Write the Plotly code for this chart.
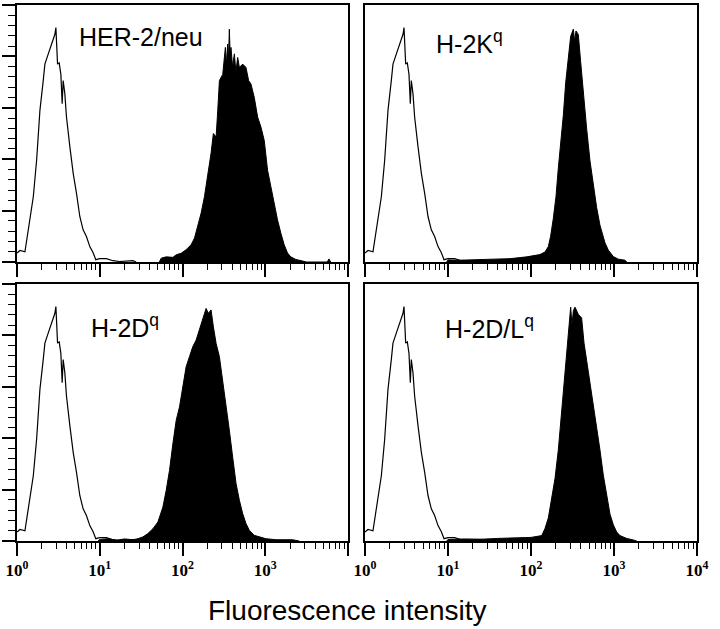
"""Histogrammes de cytométrie : HER-2/neu et molécules H-2 (q)"""

import plotly.graph_objects as go

# positions en décades (log10 de l'intensité) et hauteurs (% du cadre)
control_log = [0.0, 0.036, 0.096, 0.116, 0.157, 0.197, 0.237, 0.277, 0.317, 0.337,
               0.378, 0.418, 0.458, 0.47, 0.49, 0.51, 0.53, 0.546, 0.558, 0.578,
               0.598, 0.639, 0.679, 0.719, 0.759, 0.799, 0.839, 0.88, 0.92, 0.952,
               1.0, 1.08, 1.16, 1.24, 1.40, 1.44]
control_cnt = [3.5, 4.5, 4.0, 8.6, 16.4, 25.4, 39.6, 59, 70.6, 77,
               81, 84.8, 88.6, 91.2, 77, 77.5, 73, 61.6, 70.6, 65.5,
               56.4, 44.8, 34.5, 26.7, 17.7, 12.5, 9.9, 6, 3.6, 0.9,
               1.3, 1.3, 0.5, 0.2, 0.5, 0]

her2_log = [1.72, 1.743, 1.803, 1.884, 1.924, 1.984, 2.044, 2.104, 2.145, 2.185,
            2.225, 2.265, 2.305, 2.345, 2.373, 2.406, 2.426, 2.446, 2.486, 2.518,
            2.53, 2.546, 2.556, 2.566, 2.576, 2.586, 2.605, 2.627, 2.645, 2.667,
            2.687, 2.727, 2.767, 2.799, 2.827, 2.867, 2.908, 2.948, 2.988, 3.028,
            3.068, 3.108, 3.148, 3.189, 3.229, 3.269, 3.309, 3.369, 3.45, 3.5,
            3.75, 3.77, 3.79]
her2_cnt = [0, 1.5, 2.0, 1.8, 2.8, 3.4, 4.8, 6.7, 9.3, 13.8,
            19, 25.4, 33.1, 42.3, 50, 48.6, 59, 70.6, 73, 83.5,
            77, 84.8, 79, 90.6, 81, 83.5, 76, 81, 74, 79.6,
            75.7, 77, 75.7, 70.6, 69.3, 64.1, 56.4, 52.5, 47.3, 35.7,
            29.3, 22.8, 16.4, 11.2, 6.7, 3.5, 2, 1, 0.3, 0,
            0, 1.2, 0]

h2kq_log = [0.984, 1.0, 1.145, 1.345, 1.546, 1.747, 1.948, 2.108, 2.169, 2.209,
            2.237, 2.269, 2.301, 2.329, 2.36, 2.39, 2.418, 2.45, 2.478, 2.51,
            2.526, 2.542, 2.57, 2.598, 2.631, 2.671, 2.711, 2.751, 2.791, 2.831,
            2.892, 2.932, 2.992, 3.052, 3.133, 3.153]
h2kq_cnt = [0, 0.8, 0.7, 1.0, 1.1, 1.3, 2.0, 2.9, 3.9, 6,
            10.1, 17, 25.4, 36.5, 46.2, 57.3, 69.8, 79.5, 87.8, 90.6,
            86, 89.9, 88.5, 78, 65.6, 51.7, 39.3, 29.5, 21.2, 14.3,
            7.4, 4.6, 2.1, 1.1, 0.7, 0]

h2dq_log = [0.98, 1.0, 1.1, 1.2, 1.3, 1.4, 1.462, 1.522, 1.582, 1.643,
            1.703, 1.763, 1.803, 1.843, 1.884, 1.924, 1.964, 2.004, 2.044, 2.084,
            2.124, 2.165, 2.205, 2.245, 2.285, 2.313, 2.345, 2.373, 2.406, 2.446,
            2.486, 2.526, 2.566, 2.606, 2.647, 2.687, 2.727, 2.767, 2.807, 2.867,
            2.928, 3.008, 3.129, 3.329, 3.41]
h2dq_cnt = [0, 0.6, 0.9, 0.3, 0.8, 0.5, 0.9, 1.6, 2.9, 4.8,
            7.4, 13.2, 19.7, 27.5, 37.9, 47, 52.2, 60, 67.8, 71.7,
            75.6, 78.2, 82, 86, 90.5, 88.6, 89.9, 83.4, 76.9, 71.7,
            62.6, 53.5, 43.1, 32.7, 22.4, 15.9, 10.7, 6.8, 4.2, 2.2,
            1.6, 0.9, 0.5, 0.5, 0]

h2dlq_log = [0.984, 1.0, 1.2, 1.4, 1.6, 1.8, 2.0, 2.129, 2.169, 2.209,
             2.249, 2.289, 2.329, 2.361, 2.398, 2.43, 2.462, 2.478, 2.494, 2.51,
             2.53, 2.57, 2.61, 2.639, 2.671, 2.711, 2.751, 2.799, 2.831, 2.871,
             2.912, 2.952, 2.992, 3.032, 3.072, 3.153, 3.233, 3.273]
h2dlq_cnt = [0, 0.6, 0.8, 0.7, 1.0, 1.2, 1.4, 2.1, 4.9, 9,
             16, 24.3, 35.4, 47.9, 63.2, 74.3, 86.8, 91, 84, 89.6,
             91, 88.2, 86.8, 77, 70.1, 61.8, 52.1, 43.8, 35.4, 25.7,
             17.4, 10.4, 6.3, 3.5, 2.1, 1, 0.4, 0]

labels = ["HER-2/neu", "H-2K<sup>q</sup>", "H-2D<sup>q</sup>", "H-2D/L<sup>q</sup>"]
tick_vals = [1, 10, 100, 1000, 10000]
tick_text = ["10<sup>0</sup>", "10<sup>1</sup>", "10<sup>2</sup>", "10<sup>3</sup>", "10<sup>4</sup>"]

W, H = 720, 629

# cadres des panneaux en pixels (gauche, droite, haut, bas)
cadres = [(17, 348, 5, 262), (365, 697, 5, 262), (17, 348, 284, 541), (365, 697, 284, 541)]
positions_labels = [(77, 37), (434, 42), (89, 326), (443, 327)]

series = [(her2_log, her2_cnt), (h2kq_log, h2kq_cnt), (h2dq_log, h2dq_cnt), (h2dlq_log, h2dlq_cnt)]

minor_vals = [m * 10 ** d for d in range(4) for m in range(2, 10)]

fig = go.Figure()
layout = {}
annotations = []

for i, ((x0, x1, y0, y1), (lg, cnt)) in enumerate(zip(cadres, series)):
    n = "" if i == 0 else str(i + 1)
    xa, ya = "x" + n, "y" + n

    fig.add_trace(go.Scatter(
        x=[10 ** v for v in lg], y=cnt, xaxis=xa, yaxis=ya,
        mode="lines", fill="tozeroy", fillcolor="black",
        line=dict(color="black", width=1), hoverinfo="skip",
    ))
    fig.add_trace(go.Scatter(
        x=[10 ** v for v in control_log], y=control_cnt, xaxis=xa, yaxis=ya,
        mode="lines", line=dict(color="black", width=1.2), hoverinfo="skip",
    ))

    bas = i >= 2
    gauche = i % 2 == 0
    texte = tick_text[:4] + [""] if gauche else tick_text

    layout["xaxis" + n] = dict(
        type="log", range=[0, 4], domain=[x0 / W, x1 / W], anchor=ya,
        automargin=False,
        showline=True, linecolor="black", linewidth=1.5, mirror=True,
        showgrid=False, zeroline=False,
        ticks="outside", ticklen=13, tickwidth=1.5, tickcolor="black",
        tickmode="array", tickvals=tick_vals, ticktext=texte,
        showticklabels=bas,
        tickfont=dict(family="Liberation Serif", size=17, color="black", weight="bold"),
        minor=dict(ticks="outside", ticklen=6, tickwidth=1.2, tickcolor="black",
                   tickmode="array", tickvals=minor_vals, showgrid=False),
    )
    yaxe = dict(
        range=[0, 100], domain=[1 - y1 / H, 1 - y0 / H], anchor=xa,
        automargin=False,
        showline=True, linecolor="black", linewidth=1.5, mirror=True,
        showgrid=False, zeroline=False, showticklabels=False,
    )
    if gauche:
        yaxe.update(
            ticks="outside", ticklen=13, tickwidth=1.5, tickcolor="black",
            tickmode="linear", tick0=0, dtick=20,
            minor=dict(ticks="outside", ticklen=7, tickwidth=1.2, tickcolor="black",
                       dtick=4, tick0=0, showgrid=False),
        )
    else:
        yaxe.update(ticks="")
    layout["yaxis" + n] = yaxe

    lx, ly = positions_labels[i]
    annotations.append(dict(
        text=labels[i], x=lx / W, y=1 - ly / H, xref="paper", yref="paper",
        xanchor="left", yanchor="middle", showarrow=False,
        font=dict(family="Liberation Sans", size=25, color="black"),
    ))

annotations.append(dict(
    text="Fluorescence intensity", x=347 / W, y=1 - 610 / H, xref="paper", yref="paper",
    xanchor="center", yanchor="middle", showarrow=False,
    font=dict(family="Liberation Sans", size=28, color="black"),
))

fig.update_layout(
    width=W, height=H, margin=dict(l=0, r=0, t=0, b=0, autoexpand=False),
    paper_bgcolor="white", plot_bgcolor="white",
    showlegend=False, annotations=annotations, **layout,
)

# la page ne doit pas garder la marge par défaut du navigateur
fig.write_html(
    "out.html",
    config={"displayModeBar": False},
    post_script="document.body.style.margin = '0';",
)
